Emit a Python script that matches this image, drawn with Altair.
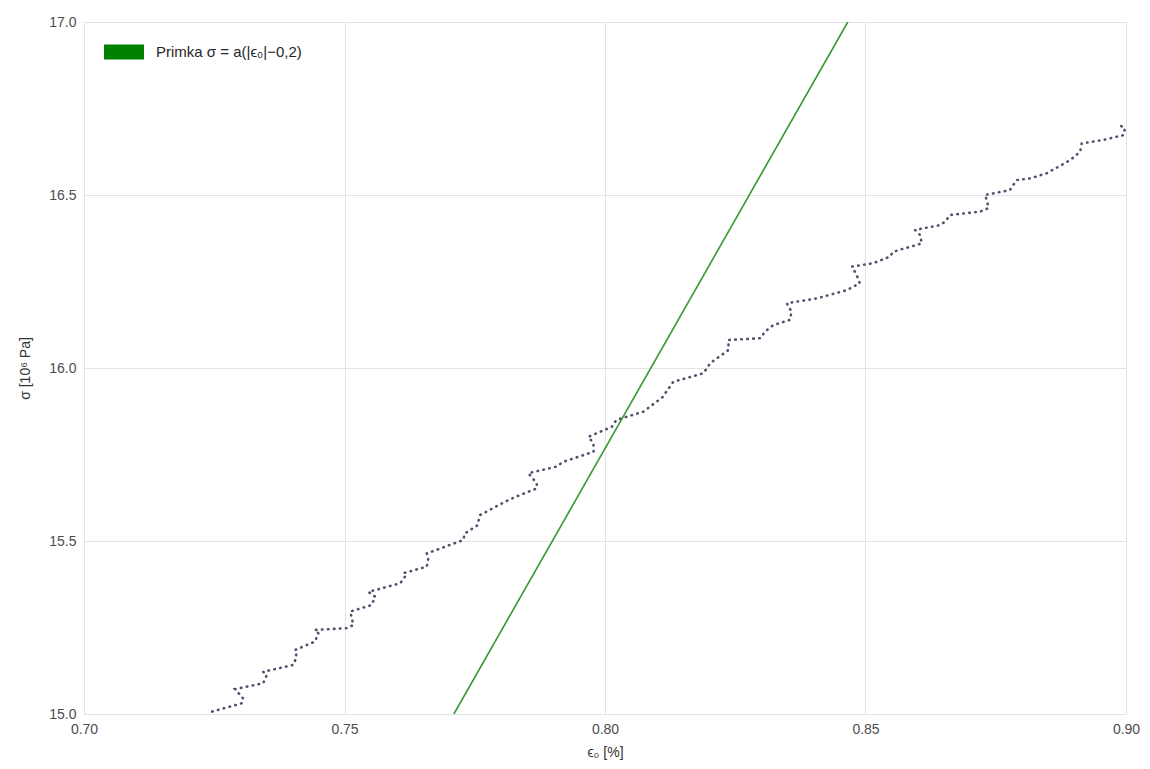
import altair as alt
import pandas as pd

# Measured stress-strain staircase (epsilon_0 in %, sigma in 10^6 Pa)
eps = [0.7246, 0.7303, 0.7305, 0.7290, 0.7344, 0.7351, 0.7344, 0.7402, 0.7408, 0.7405,
       0.7443, 0.7450, 0.7443, 0.7504, 0.7517, 0.7511, 0.7552, 0.7559, 0.7546, 0.7607,
       0.7616, 0.7613, 0.7658, 0.7661, 0.7658, 0.7728, 0.7731, 0.7755, 0.7760, 0.7814,
       0.7837, 0.7869, 0.7869, 0.7853, 0.7907, 0.7920, 0.7978, 0.7978, 0.7968, 0.8013,
       0.8022, 0.8074, 0.8086, 0.8110, 0.8131, 0.8189, 0.8202, 0.8237, 0.8237, 0.8298,
       0.8307, 0.8323, 0.8355, 0.8358, 0.8349, 0.8406, 0.8464, 0.8489, 0.8483, 0.8474,
       0.8515, 0.8547, 0.8553, 0.8608, 0.8605, 0.8595, 0.8643, 0.8653, 0.8662, 0.8720,
       0.8736, 0.8733, 0.8729, 0.8777, 0.8790, 0.8816, 0.8848, 0.8893, 0.8912, 0.8915,
       0.8956, 0.8995, 0.8998, 0.8988]
sigma = [15.007, 15.031, 15.046, 15.072, 15.089, 15.113, 15.122, 15.142, 15.166, 15.185,
         15.209, 15.233, 15.243, 15.248, 15.257, 15.296, 15.315, 15.339, 15.353, 15.378,
         15.397, 15.407, 15.426, 15.450, 15.464, 15.503, 15.522, 15.545, 15.575, 15.618,
         15.633, 15.652, 15.667, 15.696, 15.715, 15.729, 15.758, 15.782, 15.801, 15.830,
         15.850, 15.874, 15.888, 15.915, 15.960, 15.985, 16.014, 16.052, 16.081, 16.086,
         16.105, 16.124, 16.139, 16.163, 16.187, 16.201, 16.225, 16.245, 16.269, 16.293,
         16.303, 16.322, 16.336, 16.360, 16.384, 16.399, 16.413, 16.423, 16.442, 16.452,
         16.462, 16.486, 16.500, 16.514, 16.543, 16.548, 16.563, 16.601, 16.625, 16.649,
         16.659, 16.673, 16.693, 16.702]

# Fitted line endpoints
line_eps = [0.7710, 0.8466]
line_sigma = [15.0, 17.0]
line_label = "Primka σ = a(|ϵ₀|−0,2)"

x_ticks = [0.70, 0.75, 0.80, 0.85, 0.90]
y_ticks = [15.0, 15.5, 16.0, 16.5, 17.0]

meas = pd.DataFrame({"eps": eps, "sigma": sigma, "order": list(range(len(eps)))})
fit = pd.DataFrame({"eps": line_eps, "sigma": line_sigma, "series": [line_label] * 2})

FONT = "Liberation Sans"

x_enc = alt.X("eps:Q", scale=alt.Scale(domain=[0.70, 0.90], nice=False, zero=False),
              axis=alt.Axis(values=x_ticks, format=".2f", title="ϵ₀  [%]"))
y_enc = alt.Y("sigma:Q", scale=alt.Scale(domain=[15.0, 17.0], nice=False, zero=False),
              axis=alt.Axis(values=y_ticks, format=".1f", title="σ [10⁶ Pa]"))

curve = alt.Chart(meas).mark_line(
    color="#50506c", strokeWidth=2.6, strokeDash=[0.5, 5.5], strokeCap="round", clip=True
).encode(x=x_enc, y=y_enc, order="order:Q")

fitline = alt.Chart(fit).mark_line(strokeWidth=1.6, clip=True).encode(
    x="eps:Q", y="sigma:Q",
    color=alt.Color("series:N",
                    scale=alt.Scale(domain=[line_label], range=["#339933"]),
                    legend=alt.Legend(
                        title=None, orient="none", legendX=20, legendY=10,
                        symbolType="M-1,-0.375L1,-0.375L1,0.375L-1,0.375Z",
                        symbolSize=1600, symbolFillColor="green", symbolStrokeWidth=0,
                        labelFontSize=15, labelFont=FONT, labelColor="#262626",
                        labelOffset=12, padding=0)),
)

chart = (curve + fitline).properties(
    width=1042, height=692,
    autosize=alt.AutoSizeParams(type="none"),
    padding={"left": 84, "top": 22, "right": 24, "bottom": 55},
    background="white",
).configure_view(
    stroke="#d8d8d8", strokeWidth=1
).configure_axis(
    domain=False, ticks=False, grid=True, gridColor="#e3e3e3", gridWidth=1,
    labelFont=FONT, labelFontSize=14, labelColor="#4d4d4d", labelPadding=8,
    titleFont=FONT, titleFontSize=14, titleColor="#333333", titleFontWeight="normal",
).configure_axisX(titlePadding=9, labelFlush=False).configure_axisY(titlePadding=16)

chart.save("out.html", embed_options={"renderer": "svg", "actions": False})
